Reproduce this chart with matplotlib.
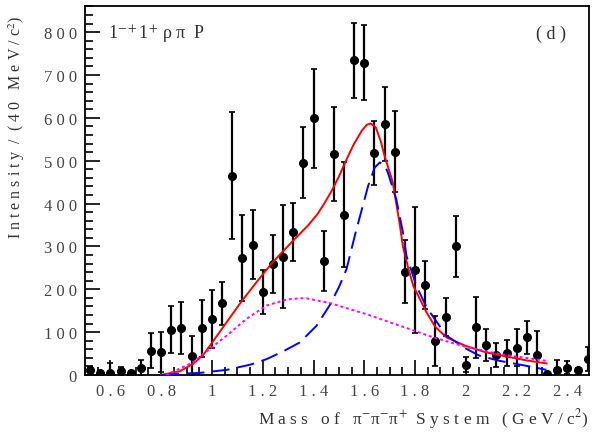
import numpy as np
import matplotlib.pyplot as plt
from matplotlib.ticker import MultipleLocator, FuncFormatter

plt.rcParams['mathtext.fontset'] = 'stix'

# data points: 40 MeV bins
mass = [0.52, 0.56, 0.60, 0.64, 0.68, 0.72, 0.76, 0.80, 0.84, 0.88,
        0.92, 0.96, 1.00, 1.04, 1.08, 1.12, 1.16, 1.20, 1.24, 1.28,
        1.32, 1.36, 1.40, 1.44, 1.48, 1.52, 1.56, 1.60, 1.64, 1.68,
        1.72, 1.76, 1.80, 1.84, 1.88, 1.92, 1.96, 2.00, 2.04, 2.08,
        2.12, 2.16, 2.20, 2.24, 2.28, 2.32, 2.36, 2.40, 2.44, 2.48]
intensity = [12, 4, 5, 10, 5, 16, 57, 54, 106, 110,
             45, 109, 131, 167, 465, 273, 304, 194, 259, 276,
             333, 495, 599, 265, 516, 374, 734, 729, 518, 586,
             521, 241, 245, 210, 79, 135, 300, 24, 111, 70,
             47, 51, 64, 88, 47, 2, 12, 17, 11, 37]
errors = [6, 4, 22, 8, 4, 18, 41, 46, 55, 61,
          45, 66, 67, 50, 148, 100, 81, 51, 68, 120,
          68, 83, 115, 70, 110, 122, 87, 88, 75, 87,
          95, 74, 146, 56, 58, 44, 71, 17, 72, 37,
          28, 31, 44, 38, 56, 3, 24, 15, 5, 28]

# fit curves
total_x = [0.80, 0.874, 0.926, 0.966, 1.0, 1.06, 1.118, 1.18, 1.239, 1.319,
           1.38, 1.415, 1.44, 1.47, 1.50, 1.53, 1.56, 1.59, 1.61, 1.625,
           1.645, 1.665, 1.68, 1.712, 1.740, 1.752, 1.775, 1.793, 1.845,
           1.88, 1.923, 1.999, 2.078, 2.160, 2.24, 2.318]
total_y = [0, 9, 26, 47, 75, 125, 173, 220, 263, 313,
           350, 375, 398, 428, 463, 503, 540, 570, 584, 587,
           578, 545, 511, 450, 350, 300, 245, 208, 146,
           112, 88, 68, 53, 43, 34, 27]

bw_x = [0.802, 0.847, 0.953, 1.058, 1.15, 1.215, 1.28, 1.346, 1.412, 1.464,
        1.50, 1.530, 1.566, 1.615, 1.641, 1.661, 1.68, 1.693, 1.726, 1.752,
        1.766, 1.805, 1.845, 1.923, 2.002, 2.054, 2.133, 2.251, 2.317]
bw_y = [0, 2, 5, 12, 24, 37, 55, 76, 115, 163,
        205, 247, 333, 441, 484, 496, 490, 472, 410, 333,
        278, 208, 158, 92, 61, 45, 33, 20, 12]

bg_x = [0.82, 0.835, 0.926, 0.992, 1.058, 1.136, 1.215, 1.294, 1.346, 1.372,
        1.464, 1.608, 1.740, 1.871, 2.002, 2.133, 2.317]
bg_y = [0, 4, 30, 61, 92, 131, 162, 176, 179, 179,
        168, 142, 115, 88, 65, 49, 33]

def spaced(v, pos=None):
    s = '%g' % v
    return ' '.join(s)

fig = plt.figure(figsize=(5.96, 4.39), dpi=100)
ax = fig.add_axes([0.1426, 0.1435, 0.8457, 0.8415])

ax.errorbar(mass, intensity, yerr=errors, fmt='o', color='black', ms=5.5,
            elinewidth=1.6, capsize=2, capthick=1.2, zorder=3)
ax.plot(total_x, total_y, color='red', lw=1.4, zorder=4)
ax.plot(bw_x, bw_y, color='blue', lw=1.4, dashes=(9, 4), zorder=4)
ax.plot(bg_x, bg_y, color='magenta', lw=1.4, dashes=(1.5, 1.5), zorder=4)

ax.set_xlim(0.5, 2.485)
ax.set_ylim(0, 862)
ax.xaxis.set_major_locator(MultipleLocator(0.2))
ax.xaxis.set_minor_locator(MultipleLocator(0.05))
ax.yaxis.set_major_locator(MultipleLocator(100))
ax.yaxis.set_minor_locator(MultipleLocator(20))
ax.xaxis.set_major_formatter(FuncFormatter(spaced))
ax.yaxis.set_major_formatter(FuncFormatter(spaced))
ax.tick_params(which='both', direction='in', top=False, right=False,
               labelsize=12, labelcolor='#444444', width=1.2)
ax.tick_params(which='major', length=11, pad=6)
ax.tick_params(which='minor', length=6)
for lbl in ax.get_xticklabels() + ax.get_yticklabels():
    lbl.set_family('Liberation Serif')
for sp in ax.spines.values():
    sp.set_linewidth(1.3)

ax.set_xlabel(r'M a s s   o f   π$^{-}$π$^{-}$π$^{+}$  S y s t e m   ( G e V / c$^{2}$)',
              family='Liberation Serif', fontsize=12.5, color='#333333')
ax.xaxis.set_label_coords(1.0, -0.085)
ax.xaxis.label.set_horizontalalignment('right')
ax.set_ylabel(r'I n t e n s i t y  /  ( 4 0   M e V / c$^{2}$)',
              family='Liberation Serif', fontsize=11.5, color='#333333')
ax.yaxis.set_label_coords(-0.115, 0.975)
ax.yaxis.label.set_horizontalalignment('right')

ax.text(0.045, 0.925, r'1$^{-+}$1$^{+}$ ρ π  P', transform=ax.transAxes,
        family='Liberation Serif', fontsize=13, color='#333333', va='center')
ax.text(0.955, 0.925, '( d )', transform=ax.transAxes, ha='right',
        family='Liberation Serif', fontsize=13, color='#333333', va='center')

fig.savefig('out.png', dpi=100)
